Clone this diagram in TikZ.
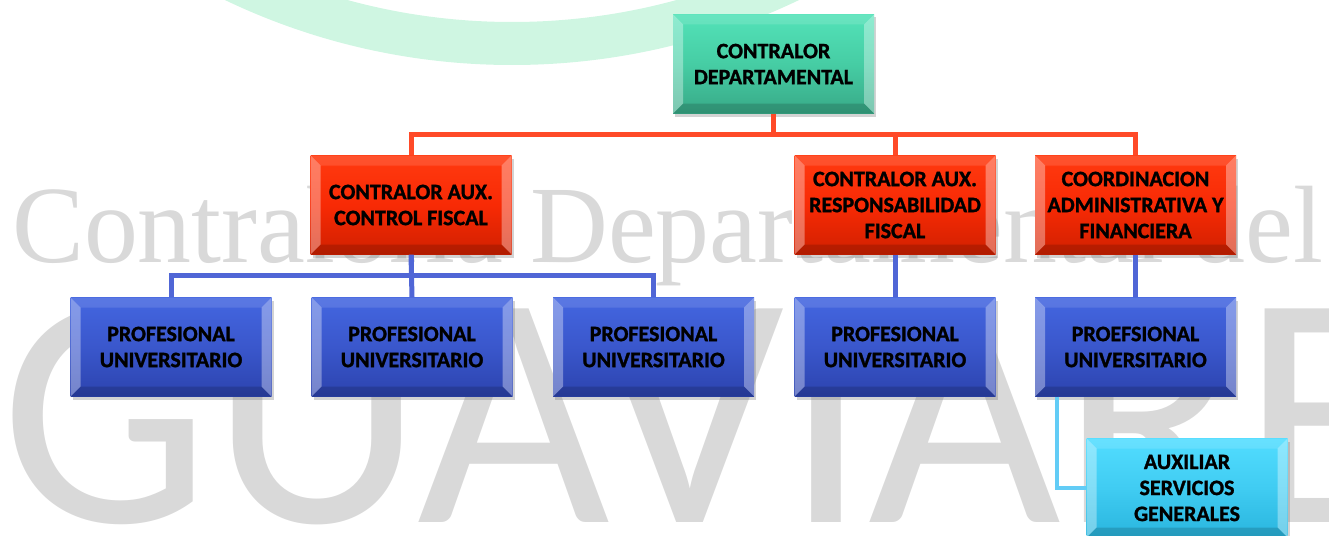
\documentclass[tikz,border=0pt]{standalone}
\usepackage{fontspec}
\usepackage{tikz}
\usetikzlibrary{positioning,shadows}
\newfontfamily\boxfont{Carlito}[BoldFeatures={FakeBold=1.3}]
\newfontfamily\wmserif{Liberation Serif}
\newfontfamily\wmsans{Carlito}

\definecolor{mint}{HTML}{CFF6E2}
\definecolor{wmgray}{HTML}{D9D9D9}
\definecolor{redline}{HTML}{FF4A28}
\definecolor{blueline}{HTML}{5066D6}
\definecolor{auxline}{HTML}{62CCF6}
\definecolor{greentop}{HTML}{53E2B8}
\definecolor{greenmid}{HTML}{46CDA4}
\definecolor{greenbot}{HTML}{38A987}
\definecolor{redtop}{HTML}{FF3A10}
\definecolor{redmid}{HTML}{F82A05}
\definecolor{redbot}{HTML}{D02000}
\definecolor{bluetop}{HTML}{4466E0}
\definecolor{bluemid}{HTML}{3A57CC}
\definecolor{bluebot}{HTML}{2C43AE}
\definecolor{cyantop}{HTML}{52DDFF}
\definecolor{cyanmid}{HTML}{40CCF2}
\definecolor{cyanbot}{HTML}{29B5DE}

\newcommand{\bevelfaces}{%
  \path (path picture bounding box.north west) coordinate (bnw)
        (path picture bounding box.north east) coordinate (bne)
        (path picture bounding box.south west) coordinate (bsw)
        (path picture bounding box.south east) coordinate (bse);
  \fill[white,opacity=.35] (bnw) -- ([shift={(10pt,-10pt)}]bnw) -- ([shift={(10pt,10pt)}]bsw) -- (bsw) -- cycle;
  \fill[white,opacity=.35] (bne) -- ([shift={(-10pt,-10pt)}]bne) -- ([shift={(-10pt,10pt)}]bse) -- (bse) -- cycle;
  \fill[white,opacity=.12] (bnw) -- (bne) -- ([shift={(-10pt,-10pt)}]bne) -- ([shift={(10pt,-10pt)}]bnw) -- cycle;
  \fill[black,opacity=.15] (bsw) -- (bse) -- ([shift={(-10pt,10pt)}]bse) -- ([shift={(10pt,10pt)}]bsw) -- cycle;
}

\tikzset{
  box/.style={rectangle, minimum width=201pt, minimum height=99pt, inner sep=0pt,
    align=center, font=\boxfont\bfseries\fontsize{22}{26}\selectfont,
    drop shadow={shadow xshift=2pt, shadow yshift=-3pt, opacity=.35},
    path picture={\bevelfaces}},
  topbox/.style={box, top color=greentop, bottom color=greenbot, middle color=greenmid},
  auxbox/.style={box, top color=redtop, bottom color=redbot, middle color=redmid},
  profbox/.style={box, top color=bluetop, bottom color=bluebot, middle color=bluemid},
  servbox/.style={box, top color=cyantop, bottom color=cyanbot, middle color=cyanmid},
  link/.style={line width=5pt},
}

\begin{document}
\begin{tikzpicture}[x=1pt,y=-1pt]
  \useasboundingbox (0,0) rectangle (1329,535);
  \fill[mint, even odd rule] (512,-600) circle (665pt) (512,-600) circle (622pt);
  \node[anchor=base west, inner sep=0pt, text=wmgray, xscale=.98, font=\wmserif\fontsize{110}{110}\selectfont] (wmtop) at (12,262) {Contraloría Departamental del};
  \node[anchor=base west, inner sep=0pt, text=wmgray, font=\wmsans\fontsize{333}{333}\selectfont] (wmbig) at (0,522) {GUAVIARE};

  \node[topbox] (cd) at (773.5,64) {CONTRALOR\\DEPARTAMENTAL};
  \node[auxbox] (cf) at (411,205) {CONTRALOR AUX.\\CONTROL FISCAL};
  \node[auxbox] (rf) at (895,205) {CONTRALOR AUX.\\RESPONSABILIDAD\\FISCAL};
  \node[auxbox] (ca) at (1135.5,205) {COORDINACION\\ADMINISTRATIVA Y\\FINANCIERA};
  \node[profbox] (pa) at (171,347) {PROFESIONAL\\UNIVERSITARIO};
  \node[profbox] (pb) at (412,347) {PROFESIONAL\\UNIVERSITARIO};
  \node[profbox] (pc) at (653.5,347) {PROFESIONAL\\UNIVERSITARIO};
  \node[profbox] (pd) at (895,347) {PROFESIONAL\\UNIVERSITARIO};
  \node[profbox] (pe) at (1135.5,347) {PROEFSIONAL\\UNIVERSITARIO};
  \node[servbox] (sg) at (1187,488) {AUXILIAR\\SERVICIOS\\GENERALES};

  \draw[link, redline] (cd.south) -- ++(0,21) -| (cf.north);
  \draw[link, redline] (cd.south) -- ++(0,21) -| (rf.north);
  \draw[link, redline] (cd.south) -- ++(0,21) -| (ca.north);
  \draw[link, blueline] (cf.south) -- ++(0,21) -| (pa.north);
  \draw[link, blueline] (cf.south) -- (pb.north);
  \draw[link, blueline] (cf.south) -- ++(0,21) -| (pc.north);
  \draw[link, blueline] (rf.south) -- (pd.north);
  \draw[link, blueline] (ca.south) -- (pe.north);
  \draw[line width=4pt, auxline] ([xshift=22pt]pe.south west) |- (sg.west);
\end{tikzpicture}
\end{document}
